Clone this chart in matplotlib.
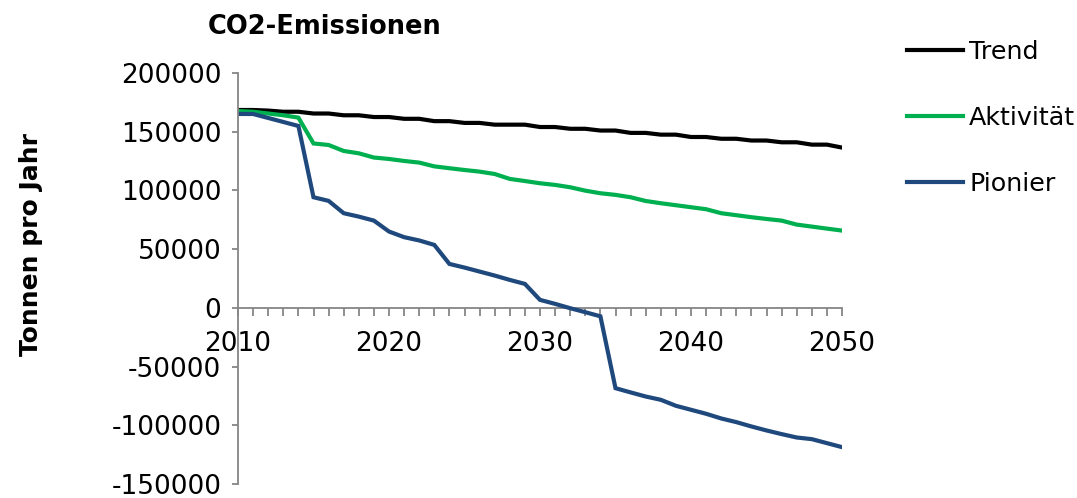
import matplotlib
matplotlib.use("Agg")
import matplotlib.pyplot as plt
from matplotlib.ticker import MultipleLocator, FixedLocator

plt.rcParams["font.family"] = ["DejaVu Sans"]
plt.rcParams["axes.unicode_minus"] = False

# Years and annual CO2 emissions (tonnes per year) for the three scenarios
years = list(range(2010, 2051))

trend = [168500, 168500, 168000, 167000, 167000, 165500, 165500, 164000, 164000, 162500,
         162500, 161000, 161000, 159000, 159000, 157500, 157500, 156000, 156000, 156000,
         154000, 154000, 152500, 152500, 151000, 151000, 149000, 149000, 147500, 147500,
         145500, 145500, 144000, 144000, 142500, 142500, 141000, 141000, 139000, 139000,
         136500]

aktivitaet = [167600, 167000, 165500, 164000, 162000, 140000, 138700, 133600, 131600, 128000,
              126800, 125100, 123700, 120500, 118900, 117400, 116000, 114000, 109800, 108000,
              106100, 104700, 102700, 99800, 97600, 96200, 94200, 91000, 89100, 87400,
              85700, 84000, 80600, 78900, 77200, 75700, 74300, 70900, 69200, 67500,
              65800]

pionier = [165100, 165100, 161700, 158300, 154900, 94200, 91100, 80600, 77700, 74300,
           65000, 60200, 57400, 53600, 37400, 34300, 30900, 27500, 23800, 20400,
           6800, 3400, -300, -3700, -7200, -68400, -72000, -75500, -78300, -83400,
           -86800, -90200, -94200, -97300, -101000, -104400, -107500, -110400, -111800, -115200,
           -118600]

series_names = ["Trend", "Aktivität", "Pionier"]
series_colors = ["#000000", "#00B050", "#1F497D"]
x_major_labels = [2010, 2020, 2030, 2040, 2050]

W, H = 1077, 498
fig = plt.figure(figsize=(W / 100, H / 100), dpi=100)
left, right, top, bottom = 238, 842, 73, 484
ax = fig.add_axes([left / W, 1 - bottom / H, (right - left) / W, (bottom - top) / H])

for vals, name, col in zip([trend, aktivitaet, pionier], series_names, series_colors):
    ax.plot(years, vals, color=col, lw=3.0, label=name, solid_joinstyle="miter")

ax.set_xlim(2010, 2050)
ax.set_ylim(-150000, 200000)

axis_grey = "#868686"
for s in ["top", "right"]:
    ax.spines[s].set_visible(False)
ax.spines["left"].set_color(axis_grey)
ax.spines["left"].set_linewidth(1.3)
ax.spines["bottom"].set_position(("data", 0))
ax.spines["bottom"].set_color(axis_grey)
ax.spines["bottom"].set_linewidth(1.3)
ax.spines["bottom"].set_zorder(1)

ax.yaxis.set_major_locator(MultipleLocator(50000))
ax.tick_params(axis="y", direction="out", length=4, width=1.3, color=axis_grey,
               labelsize=19, pad=8)

ax.xaxis.set_major_locator(FixedLocator(x_major_labels))
ax.xaxis.set_minor_locator(MultipleLocator(1))
ax.tick_params(axis="x", which="both", direction="out", length=6, width=1.3,
               color=axis_grey, labelsize=19, pad=11)
ax.set_xticklabels([str(v) for v in x_major_labels])

fig.text(325 / W, 1 - 27 / H, "CO2-Emissionen", ha="center", va="center",
         fontsize=18.5, fontweight="bold")
fig.text(31 / W, 1 - 245 / H, "Tonnen pro Jahr", ha="center", va="center",
         rotation=90, fontsize=18, fontweight="bold")

leg = fig.legend(loc="upper left", bbox_to_anchor=(884 / W, 1 - 17 / H), frameon=False,
                 fontsize=18.3, handlelength=2.2, handletextpad=0.25, labelspacing=1.65)
for line in leg.get_lines():
    line.set_linewidth(3.0)

fig.savefig("out.png", dpi=100)
